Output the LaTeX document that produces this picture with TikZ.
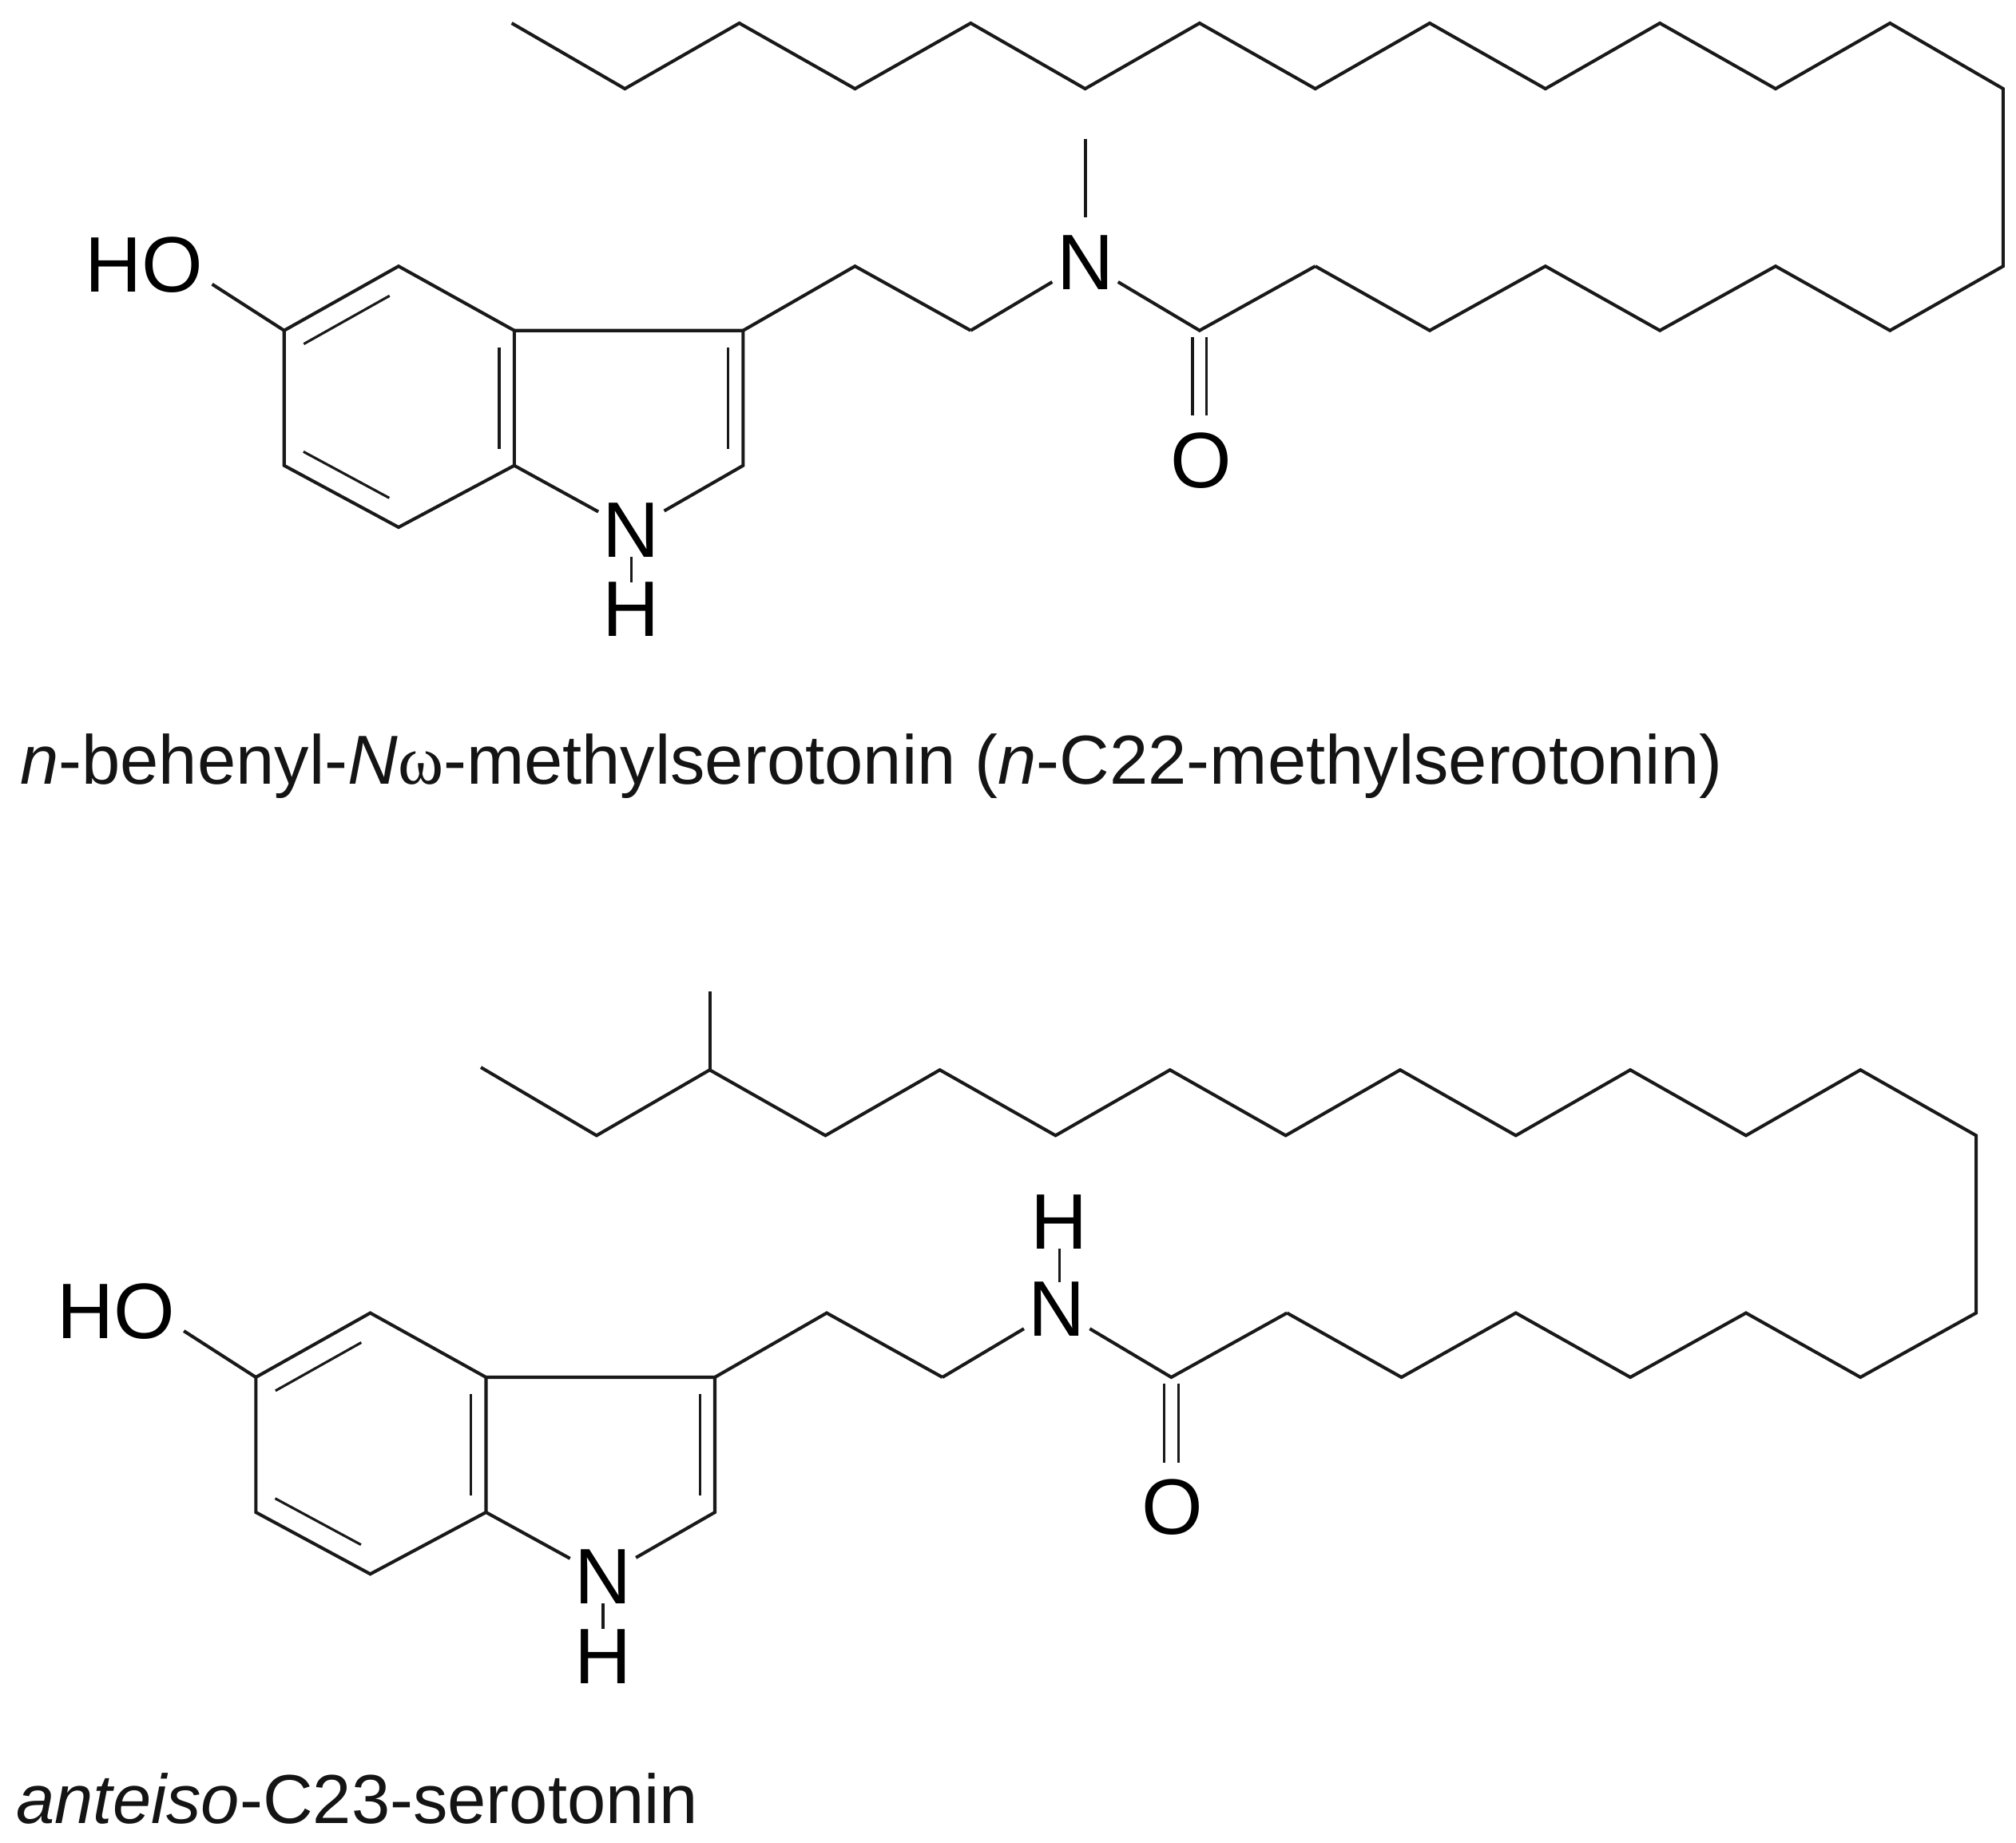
\documentclass[tikz,border=0pt]{standalone}
\usepackage{fontspec}
\setmainfont{Liberation Sans}
\newfontfamily\gkfont{Liberation Serif}
\usetikzlibrary{calc}
\tikzset{
  x=0.01cm,y=-0.01cm,
  bond/.style={line width=0.72pt,line join=miter,color=black!90},
  thinbond/.style={line width=0.55pt,color=black!90},
  atom/.style={font=\fontsize{17.4}{20}\selectfont,inner xsep=1pt,inner ysep=0pt,outer sep=0pt,text=black},
  caption/.style={font=\fontsize{15.33}{18}\selectfont,anchor=base west,inner sep=0pt,text=black!92},
}
% inner line of a ring double bond: #1 -> #2 clockwise on the page; #3,#4 end fractions; #5 offset
\newcommand{\innerbond}[5]{\draw[thinbond] ($(#1)!#3!(#2)!#5!-90:(#2)$) -- ($(#2)!#4!(#1)!#5!90:(#1)$);}
% hydroxy-indole core with ethyl linker; #1 prefix
\newcommand{\indolecore}[1]{
  \coordinate (#1c5) at (221,257);
  \coordinate (#1c4) at (310,207);
  \coordinate (#1c3a) at (400,257);
  \coordinate (#1c7a) at (400,362);
  \coordinate (#1c7) at (310,410);
  \coordinate (#1c6) at (221,362);
  \coordinate (#1c3) at (578,257);
  \coordinate (#1c2) at (578,362);
  \coordinate (#1l1) at (665,207);
  \coordinate (#1l2) at (755,257);
  \coordinate (#1hoe) at (165,221);
  \node[atom] (#1HO) at (112,206) {HO};
  \node[atom] (#1N1) at (491,412) {N};
  \node[atom] (#1H1) at (491,474) {H};
  \draw[bond] (#1hoe) -- (#1c5);
  \draw[bond] (#1c5) -- (#1c4) -- (#1c3a) -- (#1c7a) -- (#1c7) -- (#1c6) -- cycle;
  \draw[bond] (#1c3a) -- (#1c3) -- (#1c2) -- (#1N1);
  \draw[bond] (#1c7a) -- (#1N1);
  \draw[bond] (#1c3) -- (#1l1) -- (#1l2);
  \draw[thinbond] (#1N1.south) -- (#1H1.north);
  \innerbond{#1c5}{#1c4}{.08}{.17}{.166cm}
  \innerbond{#1c3a}{#1c7a}{.125}{.125}{.117cm}
  \innerbond{#1c7}{#1c6}{.17}{.08}{.166cm}
  \innerbond{#1c3}{#1c2}{.125}{.125}{.117cm}
}
% amide N, carbonyl and O; #1 prefix
\newcommand{\amide}[1]{
  \coordinate (#1cc) at (933,257);
  \coordinate (#1ca) at (1023,207);
  \node[atom] (#1Na) at (844,204) {N};
  \node[atom] (#1O) at (934,358) {O};
  \draw[bond] (#1l2) -- (#1Na) -- (#1cc) -- (#1ca);
  \draw[thinbond,shorten <=.05cm,shorten >=.13cm] ([xshift=-.055cm]#1cc) -- ([xshift=-.055cm]#1cc |- #1O.north);
  \draw[thinbond,shorten <=.05cm,shorten >=.13cm] ([xshift=.055cm]#1cc) -- ([xshift=.055cm]#1cc |- #1O.north);
}
\begin{document}
\begin{tikzpicture}
\useasboundingbox[fill=white] (0,0) rectangle (1568,1432.6);
% ---------- n-C22-methylserotonin
\begin{scope}
  \indolecore{a}
  \amide{a}
  \coordinate (ame) at (844,108);
  \draw[bond,shorten >=.14cm] (ame) -- (aNa.north);
  \path (1112,257) coordinate (a1) (1202,207) coordinate (a2) (1291,257) coordinate (a3)
        (1381,207) coordinate (a4) (1470,257) coordinate (a5) (1558,207) coordinate (a6)
        (1558,69) coordinate (a7) (1470,18) coordinate (a8) (1381,69) coordinate (a9)
        (1291,18) coordinate (a10) (1202,69) coordinate (a11) (1112,18) coordinate (a12)
        (1023,69) coordinate (a13) (933,18) coordinate (a14) (844,69) coordinate (a15)
        (755,18) coordinate (a16) (665,69) coordinate (a17) (575,18) coordinate (a18)
        (486,69) coordinate (a19) (398,18) coordinate (a20);
  \draw[bond] (aca) -- (a1) -- (a2) -- (a3) -- (a4) -- (a5) -- (a6) -- (a7) -- (a8) -- (a9) -- (a10)
     -- (a11) -- (a12) -- (a13) -- (a14) -- (a15) -- (a16) -- (a17) -- (a18) -- (a19) -- (a20);
\end{scope}
\node[caption] (capa) at (15,610) {\textit{n}-behenyl-\textit{N}{\gkfont ω}-methylserotonin (\textit{n}-C22-methylserotonin)};
% ---------- anteiso-C23-serotonin
\begin{scope}[shift={(-22,814)}]
  \indolecore{b}
  \amide{b}
  \node[atom] (bHa) at (846,136) {H};
  \draw[thinbond] (bHa.south) -- (bHa.south |- bNa.north);
  \path (1112,257) coordinate (b1) (1201,207) coordinate (b2) (1290,257) coordinate (b3)
        (1380,207) coordinate (b4) (1469,257) coordinate (b5) (1559,207) coordinate (b6)
        (1559,69) coordinate (b7) (1469,18) coordinate (b8) (1380,69) coordinate (b9)
        (1290,18) coordinate (b10) (1201,69) coordinate (b11) (1111,18) coordinate (b12)
        (1022,69) coordinate (b13) (932,18) coordinate (b14) (843,69) coordinate (b15)
        (753,18) coordinate (b16) (664,69) coordinate (b17) (574,18) coordinate (b18)
        (486,69) coordinate (b19) (396,16) coordinate (b20) (574,-43) coordinate (bme);
  \draw[bond] (bca) -- (b1) -- (b2) -- (b3) -- (b4) -- (b5) -- (b6) -- (b7) -- (b8) -- (b9) -- (b10)
     -- (b11) -- (b12) -- (b13) -- (b14) -- (b15) -- (b16) -- (b17) -- (b18) -- (b19) -- (b20);
  \draw[bond] (b18) -- (bme);
\end{scope}
\node[caption] (capb) at (12,1418) {\textit{anteiso}-C23-serotonin};
\end{tikzpicture}
\end{document}
